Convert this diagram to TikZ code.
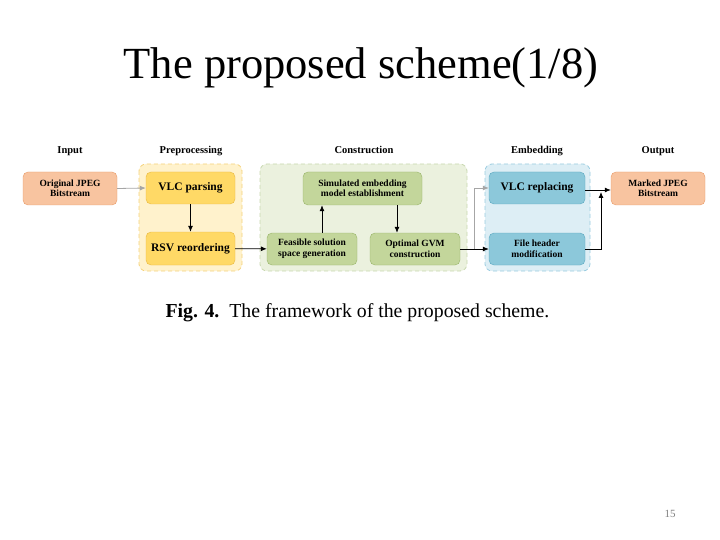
\documentclass[tikz,border=0pt]{standalone}
\usepackage{fontspec}
\setmainfont{Liberation Serif}
\usetikzlibrary{arrows.meta}
\definecolor{orF}{HTML}{F8C4A0}\definecolor{orD}{HTML}{E89A68}
\definecolor{yeF}{HTML}{FFD966}\definecolor{yeD}{HTML}{E8B840}\definecolor{yeG}{HTML}{FFF2CC}\definecolor{yeGD}{HTML}{F5D27A}
\definecolor{grF}{HTML}{C3D69B}\definecolor{grD}{HTML}{98B468}\definecolor{grG}{HTML}{EBF1DE}\definecolor{grGD}{HTML}{C8D8B0}
\definecolor{blF}{HTML}{8CC8DA}\definecolor{blD}{HTML}{5AA8C0}\definecolor{blG}{HTML}{DDEEF5}\definecolor{blGD}{HTML}{9ACCE0}
\tikzset{
 box/.style={draw, rounded corners=5pt, align=center, font=\bfseries\fontsize{9.5}{10.5}\selectfont, inner sep=1pt},
 grp/.style={rounded corners=7pt, dashed, line width=0.8pt, dash pattern=on 4pt off 3pt},
 hdr/.style={font=\bfseries\fontsize{10.5}{12}\selectfont, anchor=base},
 arr/.style={-{Latex[length=6pt,width=5pt]}, line width=0.8pt},
}
\begin{document}
\begin{tikzpicture}[x=1pt,y=-1pt]
\useasboundingbox (0,0) rectangle (720,540);
\node (title) at (361,68) {\fontsize{44.5}{50}\selectfont The proposed scheme(1/8)};
% groups
\draw[grp, fill=yeG, draw=yeGD] (139,164) rectangle (242,271);
\draw[grp, fill=grG, draw=grGD] (260,164) rectangle (467,271);
\draw[grp, fill=blG, draw=blGD] (485,164) rectangle (590,271);
% headers
\node[hdr] (h1) at (70,154) {Input};
\node[hdr] (h2) at (191,154) {Preprocessing};
\node[hdr] (h3) at (364,154) {Construction};
\node[hdr] (h4) at (537,154) {Embedding};
\node[hdr] (h5) at (658,154) {Output};
% boxes
\node[box, fill=orF, draw=orD, minimum width=94pt, minimum height=33pt] (in) at (70,188.5) {Original JPEG\\Bitstream};
\node[box, fill=yeF, draw=yeD, minimum width=89pt, minimum height=32pt] (vlc) at (190.5,188) {\fontsize{11.5}{12}\selectfont VLC parsing};
\node[box, fill=yeF, draw=yeD, minimum width=89pt, minimum height=33pt] (rsv) at (190.5,248.5) {\fontsize{11.5}{12}\selectfont RSV reordering};
\node[box, fill=grF, draw=grD, minimum width=119pt, minimum height=33pt] (sim) at (362.5,188.5) {Simulated embedding\\model establishment};
\node[box, fill=grF, draw=grD, minimum width=90pt, minimum height=32pt] (fea) at (312,249) {Feasible solution\\space generation};
\node[box, fill=grF, draw=grD, minimum width=90pt, minimum height=32pt] (opt) at (415,249) {Optimal GVM\\construction};
\node[box, fill=blF, draw=blD, minimum width=96pt, minimum height=32pt] (rep) at (537,188) {\fontsize{11.5}{12}\selectfont VLC replacing};
\node[box, fill=blF, draw=blD, minimum width=96pt, minimum height=32pt] (fh) at (537,249) {File header\\modification};
\node[box, fill=orF, draw=orD, minimum width=94pt, minimum height=33pt] (out) at (658,188.5) {Marked JPEG\\Bitstream};
% arrows
\draw[arr, gray!70] (in.east) -- (vlc.west);
\draw[arr] (vlc) -- (rsv);
\draw[arr] (rsv) -- (fea);
\draw[arr] (fea.north -| 322,0) -- (sim.south -| 322,0);
\draw[arr] (sim.south -| 397,0) -- (opt.north -| 397,0);
\draw[arr] (opt.east) -- (fh.west);
\coordinate (s) at (474,249);
\draw[arr, gray!70] (s) -- (474,188) -- (rep.west);
\coordinate (j) at (601,190);
\draw[line width=0.8pt] (rep.east |- j) -- (j);
\draw[arr] (fh.east) -- (601,249) -- (601,192);
\draw[arr] (j) -- (out.west |- j);
% caption
\node[anchor=west] (cap) at (162,313) {\fontsize{19.8}{22}\selectfont \textbf{Fig. 4.}\ \ The framework of the proposed scheme.};
\node[text=gray] (pg) at (670,514) {\fontsize{11}{12}\selectfont 15};
\end{tikzpicture}
\end{document}
